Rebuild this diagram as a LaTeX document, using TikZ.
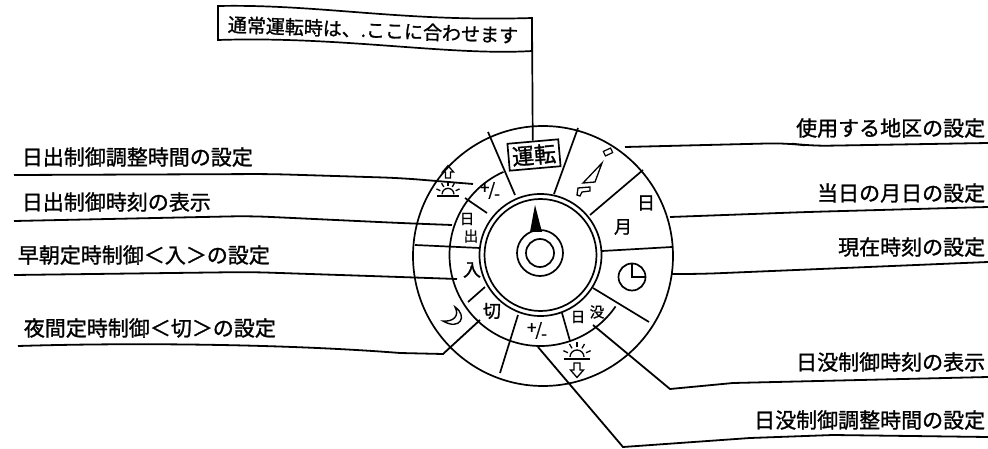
\documentclass[tikz,border=0pt]{standalone}
\usepackage{fontspec}
\setmainfont[FakeBold=1.2]{Noto Sans CJK JP}
\usetikzlibrary{calc}
\newcommand{\pmslash}{\raisebox{2pt}{+}\kern-1pt/\kern-1pt\raisebox{-4pt}{-}}

\tikzset{
  pics/sunmark/.style = {code = {
    \draw (-13,0) -- (13,0);
    \draw (-7,-2) arc[start angle=180, end angle=360, radius=7];
    \foreach \a in {-25,-60,-90,-120,-155}
      \draw (\a:10) ++(0,-2) -- ++(\a:5);
  }},
  pics/hollowarrow/.style = {code = {
    \draw (-3,-7) -- (3,-7) -- (3,0) -- (6.5,0) -- (0,7.5) -- (-6.5,0) -- (-3,0) -- cycle;
  }}
}

\begin{document}
\begin{tikzpicture}[
    x=1pt, y=-1pt,
    line width=1.7pt,
    every node/.style = {inner sep=0pt, font=\fontsize{21}{21}\selectfont},
    leader/.style = {line width=1.8pt, rounded corners=18pt},
    leaderbent/.style = {line width=1.8pt},
    dialtext/.style = {font=\fontsize{18}{18}\selectfont},
    smalltext/.style = {font=\fontsize{14.5}{14.5}\selectfont}]
  \useasboundingbox (0,0) rectangle (988,449);

  % banner
  \coordinate (bannerTL) at (218,6);
  \coordinate (bannerTR) at (532,18);
  \coordinate (bannerBR) at (532,51);
  \coordinate (bannerBL) at (218,40);
  \draw (bannerTL) .. controls (320,4) and (400,22) .. (bannerTR) -- (bannerBR)
    .. controls (450,56) and (340,36) .. (bannerBL) -- cycle;
  \node[rotate=-2.2, font=\fontsize{19}{19}\selectfont] (banner) at (373,30) {通常運転時は、.ここに合わせます};

  % dial
  \coordinate (dial) at (540.5,255);
  \draw (543,256) circle (130);
  \draw (dial) circle (61);
  \draw (dial) circle (56);
  \draw ($(dial)+(-114:91)$) arc[start angle=-114, end angle=-325.6, radius=91];
  \draw (540,253) circle (23);
  \draw (540,253) circle (14);
  \fill (535,205) -- (530,232) -- (542,232) -- cycle;

  % dividers
  \coordinate (outerA) at (488,132);  \coordinate (innerA) at (515,195);
  \coordinate (outerB) at (578,128);  \coordinate (innerB) at (554,194);
  \coordinate (outerC) at (643,170);  \coordinate (innerC) at (590,215);
  \coordinate (outerD) at (672,247);  \coordinate (innerD) at (602,251);
  \coordinate (outerE) at (649,322);  \coordinate (innerE) at (593,288);
  \coordinate (outerF) at (570,341);  \coordinate (innerF) at (562,313);
  \coordinate (outerG) at (500,373);  \coordinate (innerG) at (518,315);
  \coordinate (outerH) at (468,302);  \coordinate (innerH) at (485,287);
  \coordinate (outerI) at (415,245);  \coordinate (innerI) at (480,248);
  \coordinate (outerJ) at (465,198);  \coordinate (innerJ) at (487,213);
  \draw (outerA) -- (innerA);
  \draw (outerB) -- (innerB);
  \draw (outerC) -- (innerC);
  \draw (outerD) -- (innerD);
  \draw (outerE) -- (innerE);
  \draw (outerF) -- (innerF);
  \draw (outerG) -- (innerG);
  \draw (outerH) -- (innerH);
  \draw (outerI) -- (innerI);
  \draw (outerJ) -- (innerJ);

  % dial marks
  \node[draw, rotate=5, minimum width=51pt, minimum height=27pt, fill=white,
    font=\fontsize{22}{22}\selectfont] (run) at (534,155) {運転};
  \draw[line width=1.2pt, rotate around={25:(608,152)}] (604,149.5) rectangle (612,154.5);
  \draw[line width=1.3pt] (602,163) -- (583,183) -- (595,182) -- cycle;
  \draw[line width=1.3pt] (578,188) -- (590,187) -- (590,191) -- (582,192) -- (580,196) -- (577,195) -- cycle;
  \node[dialtext] (day) at (646,203) {日};
  \node[dialtext] (month) at (623,227) {月};
  \draw (632,277) circle (13.5);
  \draw (632,264) -- (632,277) -- (645,277);
  \node[smalltext] (sunsetA) at (578,317) {日};
  \node[smalltext] (sunsetB) at (597,312) {没};
  \node[font=\fontsize{17}{17}\selectfont] (adjustB) at (537,331) {\pmslash};
  \node[font=\fontsize{17}{17}\selectfont] (adjustA) at (490,191) {\pmslash};
  \node[smalltext] (sunriseA) at (467,219) {日};
  \node[smalltext] (sunriseB) at (471,236) {出};
  \node[dialtext] (onmark) at (472,270) {入};
  \node[dialtext] (offmark) at (492,311) {切};
  \draw[line width=1.4pt] (455,307) .. controls (468,316) and (460,331) .. (443,321)
    .. controls (453,322) and (460,316) .. cycle;
  \pic[line width=1.3pt, scale=.85] at (448,196) {sunmark};
  \pic[line width=1.3pt, scale=.85, yscale=-1] at (448,172) {hollowarrow};
  \pic[line width=1.3pt] at (577,359) {sunmark};
  \pic[line width=1.3pt] at (577,370) {hollowarrow};

  % labels
  \node[anchor=west] (sunriseAdjust) at (21,157) {日出制御調整時間の設定};
  \node[anchor=west] (sunriseShow) at (21,202) {日出制御時刻の表示};
  \node[anchor=west] (morningOn) at (17,255) {早朝定時制御＜入＞の設定};
  \node[anchor=west] (nightOff) at (23,328) {夜間定時制御＜切＞の設定};
  \node[anchor=east] (areaSet) at (986,128) {使用する地区の設定};
  \node[anchor=east] (dateSet) at (986,193) {当日の月日の設定};
  \node[anchor=east] (timeSet) at (986,247) {現在時刻の設定};
  \node[anchor=east] (sunsetShow) at (986,362) {日没制御時刻の表示};
  \node[anchor=east] (sunsetAdjust) at (986,420) {日没制御調整時間の設定};

  % leaders
  \coordinate (lineA) at (14,175);   \coordinate (markA) at (473,184);
  \coordinate (lineB) at (14,221);   \coordinate (markB) at (452,225);
  \coordinate (lineC) at (14,275);   \coordinate (markC) at (457,279);
  \coordinate (lineD) at (18,346);   \coordinate (markD) at (480,320);
  \coordinate (lineE) at (988,143);  \coordinate (markE) at (625,147);
  \coordinate (lineF) at (988,207);  \coordinate (markF) at (670,217);
  \coordinate (lineG) at (988,262);  \coordinate (markG) at (672,274);
  \coordinate (lineH) at (988,377);  \coordinate (markH) at (593,325);
  \coordinate (lineI) at (988,437);  \coordinate (markI) at (538,347);
  \draw (bannerTR) -- (run.north);
  \draw[leader] (lineA) -- (270,174) -- (400,178) -- (markA);
  \draw[leader] (lineB) -- (250,216) -- (400,223) -- (markB);
  \draw[leader] (lineC) -- (250,272) -- (400,277) -- (markC);
  \draw[leaderbent] (lineD) .. controls (150,342) and (300,345) .. (400,353) -- (443,354) -- (markD);
  \draw[leader] (lineE) -- (810,146) -- (787,143) -- (markE);
  \draw[leader] (lineF) -- (807,212) -- (markF);
  \draw[leader] (lineG) -- (700,274) -- (markG);
  \draw[leaderbent] (markH) -- (670,389) -- (733,383) -- (lineH);
  \draw[leaderbent] (markI) -- (623,447) -- (750,438) -- (833,435) -- (lineI);
\end{tikzpicture}
\end{document}
